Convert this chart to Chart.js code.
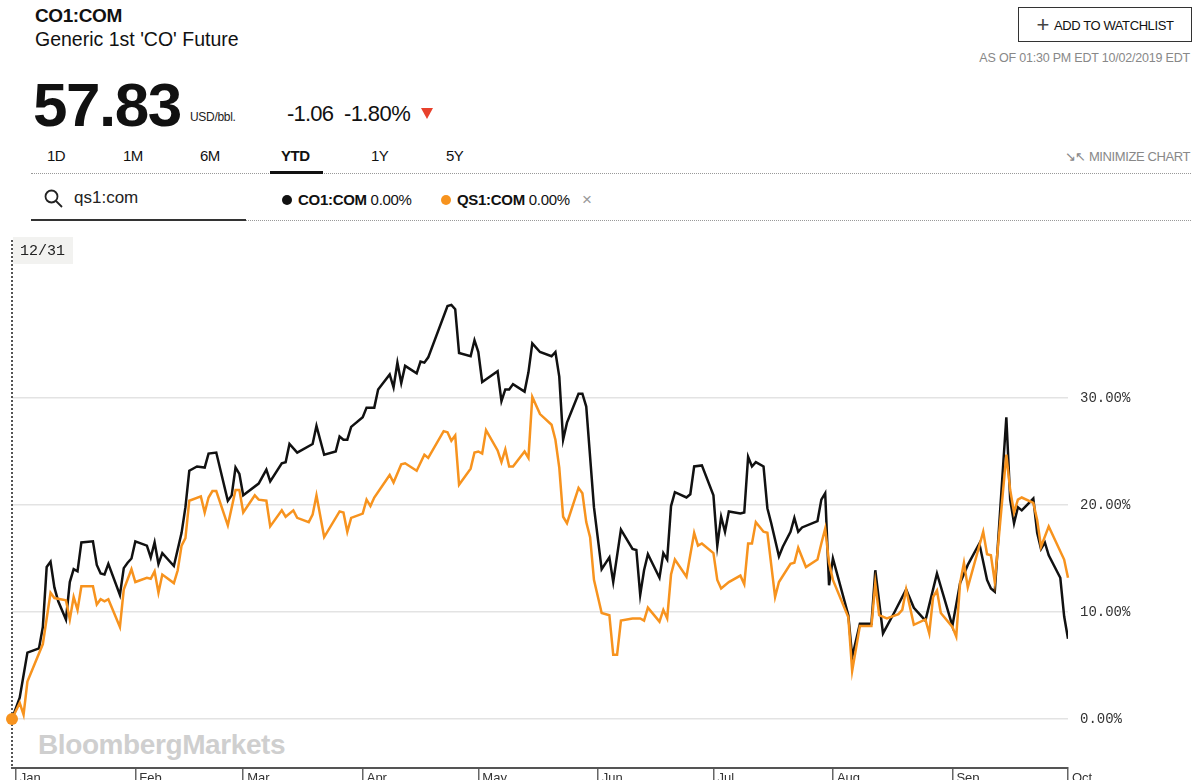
<!DOCTYPE html>
<html>
<head>
<meta charset="utf-8">
<title>CO1:COM vs QS1:COM</title>
<script src="https://cdn.jsdelivr.net/npm/chart.js@4.4.1/dist/chart.umd.min.js"></script>
<style>
    html, body { margin: 0; padding: 0; background: #fff; }
    body { width: 1200px; height: 780px; overflow: hidden; position: relative; font-family: "Liberation Sans", Arial, sans-serif; color: #111; }
    .abs { position: absolute; white-space: nowrap; }
    #ticker { left: 35px; top: 5px; font-size: 19px; font-weight: bold; letter-spacing: -0.4px; }
    #name { left: 35px; top: 28px; font-size: 19.5px; letter-spacing: 0px; }
    #price { left: 33px; top: 69px; font-size: 62px; font-weight: bold; letter-spacing: -1.5px; }
    #unit { left: 190px; top: 110px; font-size: 12px; letter-spacing: -0.3px; color: #222; }
    #chg { left: 287px; top: 101px; font-size: 22px; letter-spacing: -0.8px; }
    #chgpct { left: 344px; top: 101px; font-size: 22px; letter-spacing: -0.6px; }
    #arrow { left: 421px; top: 108px; width: 0; height: 0; border-left: 6px solid transparent; border-right: 6px solid transparent; border-top: 11px solid #e8412c; }
    #watch { left: 1018px; top: 7px; width: 174px; height: 35px; border: 1px solid #333; box-sizing: border-box; font-size: 13px; letter-spacing: -0.4px; line-height: 33px; text-align: center; }
    #watch span { font-size: 22px; font-weight: 300; vertical-align: -2px; margin-right: 5px; color: #444; }
    #asof { right: 10px; top: 51px; font-size: 12.5px; color: #888; letter-spacing: -0.2px; }
    .tab { top: 147px; font-size: 15px; letter-spacing: -0.5px; }
    #ytd { font-weight: bold; }
    #ytdbar { left: 270px; top: 171px; width: 53px; height: 3px; background: #111; }
    .dotline { height: 0; border-top: 1px dotted #999; }
    #minimize { right: 10px; top: 149px; font-size: 13px; color: #888; letter-spacing: -0.4px; }
    #search { left: 74px; top: 188px; font-size: 17px; color: #222; }
    #searchbar { left: 31px; top: 219px; width: 215px; height: 2px; background: #333; }
    .leg { top: 191px; font-size: 15px; letter-spacing: -0.3px; }
    .dot { display: inline-block; width: 10px; height: 10px; border-radius: 50%; margin-right: 6px; }
    #close { left: 582px; top: 190px; font-size: 17px; color: #999; }
    #chartBox { left: 0; top: 222px; width: 1200px; height: 580px; }
    #mark { left: 38px; top: 729px; font-size: 28px; font-weight: bold; color: #cfcfcf; letter-spacing: -0.4px; }
</style>
</head>
<body>
<div class="abs" id="ticker">CO1:COM</div>
<div class="abs" id="name">Generic 1st 'CO' Future</div>
<div class="abs" id="price">57.83</div>
<div class="abs" id="unit">USD/bbl.</div>
<div class="abs" id="chg">-1.06</div>
<div class="abs" id="chgpct">-1.80%</div>
<div class="abs" id="arrow"></div>
<div class="abs" id="watch"><span>+</span>ADD TO WATCHLIST</div>
<div class="abs" id="asof">AS OF 01:30 PM EDT 10/02/2019 EDT</div>

<div class="abs tab" style="left:47px">1D</div>
<div class="abs tab" style="left:123px">1M</div>
<div class="abs tab" style="left:200px">6M</div>
<div class="abs tab" id="ytd" style="left:281px">YTD</div>
<div class="abs tab" style="left:371px">1Y</div>
<div class="abs tab" style="left:446px">5Y</div>
<div class="abs dotline" style="left:31px; top:173px; width:1160px"></div>
<div class="abs" id="ytdbar"></div>
<div class="abs" id="minimize">&#8600;&#8598; MINIMIZE CHART</div>

<svg class="abs" style="left:44px; top:189px" width="20" height="20" viewBox="0 0 20 20">
    <circle cx="7.5" cy="7.5" r="6" fill="none" stroke="#222" stroke-width="1.8"/>
    <line x1="12" y1="12" x2="18" y2="18" stroke="#222" stroke-width="1.8"/>
</svg>
<div class="abs" id="search">qs1:com</div>
<div class="abs" id="searchbar"></div>
<div class="abs dotline" style="left:246px; top:220px; width:945px"></div>

<div class="abs leg" style="left:282px"><span class="dot" style="background:#111"></span><b>CO1:COM</b> 0.00%</div>
<div class="abs leg" style="left:441px"><span class="dot" style="background:#f7931e"></span><b>QS1:COM</b> 0.00%</div>
<div class="abs" id="close">&times;</div>

<div class="abs" id="mark">BloombergMarkets</div>
<div class="abs" id="chartBox"><canvas id="lineChart"></canvas></div>

<script>
// days since 12/31/2018, % change since 12/31
var co1Days = [0, 2, 4, 7, 8, 9, 10, 11, 12, 14, 15, 16, 17, 18, 21, 22, 23, 24, 25, 28, 29, 30, 31, 32, 35, 36, 37, 38, 39, 42,
    44, 45, 46, 48, 50, 51, 53, 56, 57, 58, 59, 60, 64, 66, 67, 70, 71, 72, 74, 78, 79, 81, 84, 85, 86, 87, 88, 91, 92,
    94, 95, 98, 99, 100, 101, 102, 105, 106, 107, 108, 113, 114, 115, 116, 119, 120, 121, 122, 126, 127, 128, 129, 130,
    133, 134, 135, 137, 140, 141, 142, 143, 144, 147, 148, 149, 151, 153, 155, 156, 158, 161, 162, 163, 164, 165, 168,
    169, 170, 171, 172, 175, 176, 177, 179, 182, 183, 184, 185, 186, 189, 190, 191, 192, 193, 195, 196, 197, 199, 200,
    202, 203, 204, 205, 209, 210, 211, 212, 213, 217, 218, 220, 223, 224, 226, 229, 232, 234, 237, 240, 244, 246, 248,
    251, 253, 254, 255, 258, 259, 260, 261, 262, 265, 266, 267, 268, 269, 272, 273, 274];
var co1Values = [0, 2.0, 6.2, 6.6, 8.6, 14.2, 14.7, 12.3, 11.0, 9.3, 12.8, 14.0, 13.8, 16.5, 16.6, 14.4, 13.6, 13.5, 14.5, 11.6,
    14.1, 14.6, 15.0, 16.6, 16.2, 15.1, 16.5, 14.5, 15.5, 14.3, 17.4, 19.8, 23.2, 23.6, 23.5, 24.8, 24.9, 20.4, 20.9,
    23.5, 22.9, 20.9, 22.0, 23.3, 22.2, 23.9, 24.0, 25.7, 24.9, 25.7, 27.4, 24.7, 25.0, 26.4, 26.1, 26.1, 27.3, 28.2,
    29.1, 29.1, 30.8, 32.2, 31.0, 33.3, 31.4, 33.0, 32.3, 33.4, 33.3, 33.8, 38.6, 38.7, 38.3, 34.2, 33.9, 35.4, 34.3,
    31.5, 32.5, 29.7, 30.8, 30.8, 31.3, 30.6, 32.4, 35.1, 34.3, 33.9, 34.3, 32.0, 26.1, 27.7, 30.4, 30.4, 29.2, 19.8,
    14.0, 15.1, 12.8, 17.7, 15.9, 15.8, 11.6, 13.9, 15.4, 13.2, 15.5, 14.9, 19.9, 21.2, 20.7, 21.0, 23.6, 23.7, 20.9,
    16.2, 18.9, 17.5, 19.4, 19.2, 19.3, 24.5, 23.6, 24.0, 23.6, 19.7, 18.3, 15.2, 16.1, 17.5, 18.8, 17.5, 17.9, 18.5,
    20.5, 21.1, 12.5, 15.0, 9.7, 5.8, 8.9, 8.9, 13.9, 8.0, 10.0, 12.1, 10.4, 9.2, 13.6, 8.7, 12.7, 14.4, 16.4, 13.0,
    12.2, 11.9, 28.2, 20.5, 18.3, 19.8, 19.5, 20.6, 17.4, 15.9, 16.5, 15.3, 13.2, 9.6, 7.5];

var qs1Days = [0, 2, 3, 4, 8, 10, 11, 14, 15, 16, 17, 18, 21, 22, 23, 24, 25, 28, 29, 31, 32, 35, 36, 37, 38, 39, 42, 43, 44,
    45, 46, 49, 50, 51, 52, 53, 56, 58, 59, 60, 63, 64, 66, 67, 70, 71, 73, 74, 77, 78, 79, 81, 85, 86, 87, 88, 91, 92,
    93, 94, 98, 99, 101, 102, 105, 107, 108, 112, 113, 114, 115, 116, 119, 120, 121, 122, 123, 126, 127, 128, 129, 130,
    133, 134, 135, 137, 140, 141, 142, 143, 144, 147, 148, 149, 150, 151, 153, 155, 156, 157, 158, 161, 163, 164, 165,
    168, 169, 170, 171, 172, 175, 177, 178, 179, 182, 183, 184, 186, 189, 190, 191, 192, 193, 195, 196, 197, 198, 199,
    202, 203, 204, 206, 209, 210, 211, 212, 213, 217, 218, 220, 223, 224, 225, 227, 230, 231, 232, 234, 237, 238, 239,
    240, 241, 244, 245, 246, 247, 248, 252, 253, 254, 255, 258, 259, 260, 261, 262, 265, 266, 267, 269, 273, 274];
var qs1Values = [0, 1.5, 0.4, 3.5, 7.0, 11.8, 11.3, 11.1, 9.3, 11.4, 10.2, 12.4, 12.4, 10.7, 11.2, 11.0, 11.2, 8.6, 12.1, 14.0,
    12.8, 13.2, 13.1, 13.8, 11.8, 13.5, 12.7, 13.9, 16.2, 16.9, 20.4, 20.8, 19.3, 20.7, 21.3, 21.3, 18.1, 21.4, 21.4,
    19.3, 20.9, 20.5, 20.4, 18.0, 19.5, 18.9, 19.5, 18.8, 18.4, 19.1, 20.9, 17.0, 19.4, 19.3, 17.5, 18.8, 19.2, 20.5,
    19.9, 20.7, 22.8, 22.1, 23.8, 23.9, 23.2, 24.7, 24.4, 26.9, 26.8, 26.0, 26.5, 21.9, 23.4, 24.9, 25.0, 24.8, 27.0,
    25.1, 24.0, 25.2, 23.6, 23.6, 25.0, 24.4, 30.1, 28.5, 27.5, 26.1, 23.5, 18.9, 18.3, 21.6, 21.1, 18.4, 17.0, 13.0,
    9.9, 9.7, 6.0, 6.0, 9.2, 9.4, 9.4, 9.2, 10.4, 9.1, 10.2, 9.4, 13.5, 14.9, 13.3, 17.4, 16.2, 16.4, 15.5, 13.0, 12.2,
    12.8, 13.4, 12.6, 16.4, 16.4, 18.4, 17.5, 17.4, 14.4, 11.4, 12.8, 14.5, 14.6, 16.0, 14.2, 14.9, 16.4, 17.8, 14.6,
    13.0, 9.5, 4.5, 8.7, 8.7, 12.7, 9.7, 9.4, 9.8, 10.2, 12.1, 8.8, 9.3, 8.0, 11.4, 12.0, 9.9, 8.6, 7.7, 12.7, 14.6,
    12.3, 17.5, 15.4, 15.3, 12.8, 24.7, 21.4, 19.3, 20.5, 20.7, 20.2, 18.6, 16.1, 18.0, 14.9, 13.2];

var monthDays = [1, 32, 60, 91, 121, 152, 182, 213, 244, 274];
var monthLabels = ['Jan', 'Feb', 'Mar', 'Apr', 'May', 'Jun', 'Jul', 'Aug', 'Sep', 'Oct'];
var yTicks = [0, 10, 20, 30];

function toPoints(days, values) {
    return days.map(function(d, i) { return { x: d, y: values[i] }; });
}

// dotted start line, 12/31 box
var startMarker = {
    id: 'startMarker',
    beforeDatasetsDraw: function(chart) {
        var ctx = chart.ctx;
        var x = chart.scales.x.getPixelForValue(0);
        var area = chart.chartArea;
        ctx.save();
        ctx.strokeStyle = '#555';
        ctx.lineWidth = 2;
        ctx.setLineDash([2, 2]);
        ctx.beginPath();
        ctx.moveTo(x, area.top + 4);
        ctx.lineTo(x, area.bottom);
        ctx.stroke();
        ctx.setLineDash([]);
        ctx.fillStyle = '#f2f2f0';
        ctx.fillRect(x + 1, area.top + 1, 60, 27);
        ctx.fillStyle = '#222';
        ctx.font = '15px "Liberation Mono", monospace';
        ctx.textBaseline = 'middle';
        ctx.fillText('12/31', x + 8, area.top + 15);
        ctx.restore();
    }
};

var ctx = document.getElementById('lineChart').getContext('2d');
var lineChart = new Chart(ctx, {
    type: 'line',
    data: {
        datasets: [{
            label: 'QS1:COM',
            data: toPoints(qs1Days, qs1Values),
            borderColor: '#f7931e',
            backgroundColor: '#f7931e',
            borderWidth: 2.5,
            tension: 0,
            clip: false,
            pointRadius: function(c) { return c.dataIndex === 0 ? 6 : 0; },
            pointBorderWidth: 0
        }, {
            label: 'CO1:COM',
            data: toPoints(co1Days, co1Values),
            borderColor: '#111',
            backgroundColor: '#111',
            borderWidth: 2.5,
            tension: 0,
            pointRadius: 0
        }]
    },
    options: {
        responsive: true,
        maintainAspectRatio: false,
        animation: false,
        layout: { padding: { top: 14, left: 12, right: 0, bottom: 0 } },
        plugins: { legend: { display: false }, tooltip: { enabled: false } },
        scales: {
            x: {
                type: 'linear',
                min: 0,
                max: 274,
                afterBuildTicks: function(scale) {
                    scale.ticks = monthDays.map(function(d) { return { value: d }; });
                },
                afterFit: function(scale) { scale.height = 34; },
                border: { display: true, color: '#555', width: 2 },
                grid: { drawOnChartArea: false, drawTicks: true, tickLength: 13, color: '#666', lineWidth: 1.5 },
                ticks: {
                    autoSkip: false,
                    maxRotation: 0,
                    align: 'start',
                    labelOffset: 4,
                    padding: -10,
                    color: '#333',
                    font: { family: '"Liberation Sans", Arial, sans-serif', size: 13 },
                    callback: function(value) {
                        var i = monthDays.indexOf(value);
                        return i >= 0 ? monthLabels[i] : '';
                    }
                }
            },
            y: {
                position: 'right',
                min: -4.58,
                max: 45.14,
                afterBuildTicks: function(scale) {
                    scale.ticks = yTicks.map(function(v) { return { value: v }; });
                },
                afterFit: function(scale) {
                    scale.width = 132;
                    scale.paddingTop = 0;
                    scale.paddingBottom = 0;
                },
                border: { display: false },
                grid: { drawTicks: false, color: '#e3e3e3', lineWidth: 1.5 },
                ticks: {
                    padding: 12,
                    color: '#333',
                    font: { family: '"Liberation Mono", "DejaVu Sans Mono", monospace', size: 14 },
                    callback: function(value) { return value.toFixed(2) + '%'; }
                }
            }
        }
    },
    plugins: [startMarker]
});
</script>
</body>
</html>
